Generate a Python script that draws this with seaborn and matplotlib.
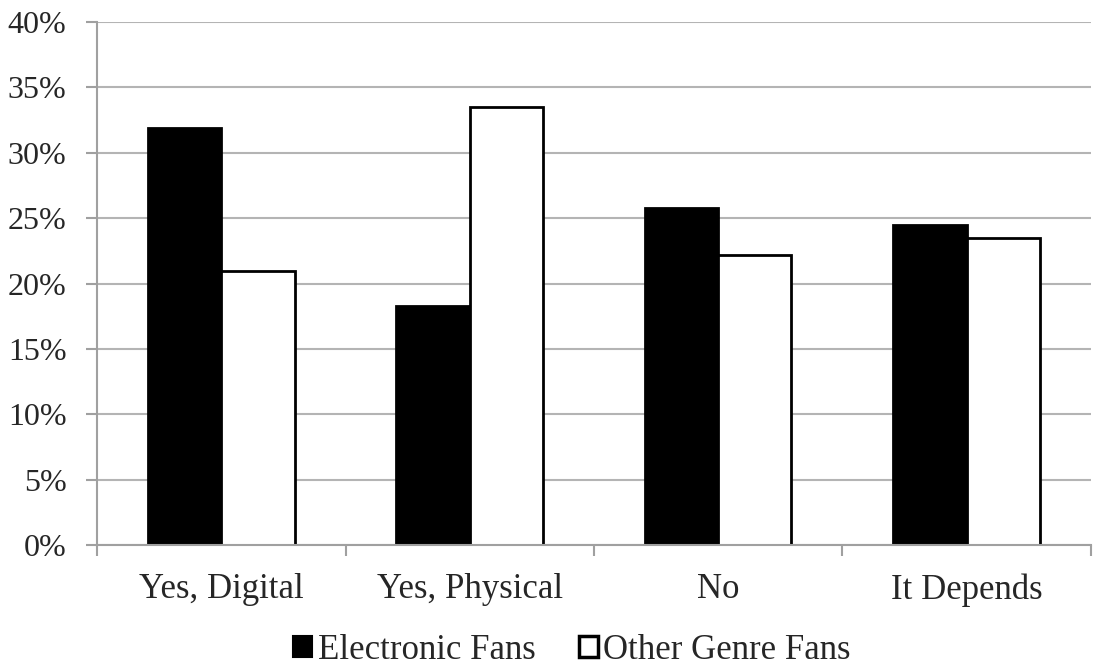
import matplotlib
matplotlib.use("Agg")
import matplotlib.pyplot as plt
import seaborn as sns
import pandas as pd
from matplotlib.ticker import FuncFormatter, FixedLocator
from matplotlib.patches import Patch

categories = ["Yes, Digital", "Yes, Physical", "No", "It Depends"]
series_names = ["Electronic Fans", "Other Genre Fans"]
electronic = [31.9, 18.3, 25.8, 24.5]
other_genre = [21.0, 33.5, 22.2, 23.5]
y_ticks = [0, 5, 10, 15, 20, 25, 30, 35, 40]

df = pd.DataFrame({
    "answer": categories * 2,
    "group": [series_names[0]] * len(categories) + [series_names[1]] * len(categories),
    "share": electronic + other_genre,
})

sns.set_theme(style="white")
plt.rcParams["font.family"] = ["Liberation Serif", "DejaVu Serif"]

fig = plt.figure(figsize=(11.04, 6.65), dpi=100)
ax = fig.add_axes([0.088, 0.18, 0.9, 0.787])

sns.barplot(data=df, x="answer", y="share", hue="group", order=categories,
            hue_order=series_names, palette=["black", "white"], width=0.59,
            edgecolor="black", linewidth=2, saturation=1, legend=False, ax=ax)

ax.set_ylim(0, 40)
ax.set_xlim(-0.5, len(categories) - 0.5)
ax.yaxis.set_major_locator(FixedLocator(y_ticks))
ax.yaxis.set_major_formatter(FuncFormatter(lambda v, _: f"{v:.0f}%"))
ax.grid(axis="y", color="#b4b4b4", linewidth=1.5)
ax.set_axisbelow(True)

for side in ["top", "right"]:
    ax.spines[side].set_visible(False)
for side in ["left", "bottom"]:
    ax.spines[side].set_color("#a0a0a0")
    ax.spines[side].set_linewidth(1.5)

# category boundary ticks on the x axis
ax.set_xticks([i - 0.5 for i in range(len(categories) + 1)], minor=True)
ax.set_xticks(range(len(categories)))
ax.set_xticklabels(categories, fontsize=25)
ax.tick_params(axis="x", which="major", bottom=False, pad=14)
ax.tick_params(axis="x", which="minor", bottom=True, length=8, width=1.5,
               color="#a0a0a0", direction="out")
ax.tick_params(axis="y", left=True, length=8, width=1.5, color="#a0a0a0",
               direction="out", labelsize=23, pad=14)
ax.set_xlabel("")
ax.set_ylabel("")

handles = [Patch(facecolor="black", edgecolor="black", linewidth=1.5),
           Patch(facecolor="white", edgecolor="black", linewidth=2.5)]
fig.legend(handles, series_names, loc="lower center", ncol=2, frameon=False,
           fontsize=25, bbox_to_anchor=(0.518, -0.05), handlelength=0.55,
           handleheight=0.55, handletextpad=0.15, columnspacing=1.25)

fig.savefig("out.png", dpi=100, facecolor="white")
